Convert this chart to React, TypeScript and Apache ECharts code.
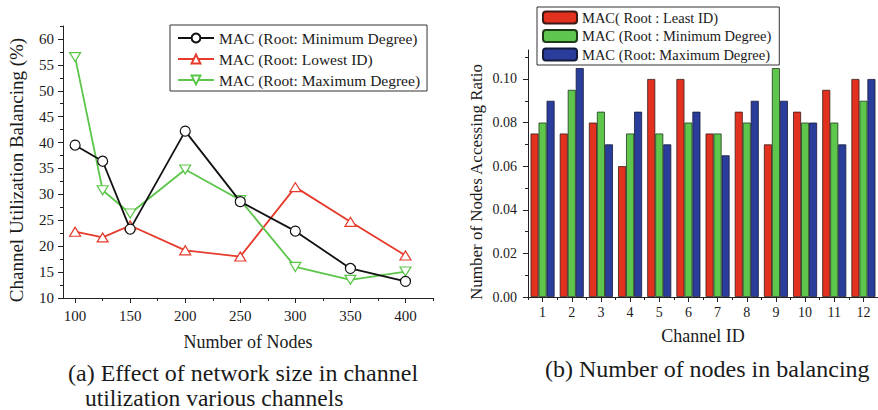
import React, { useEffect, useRef } from "react";
import * as echarts from "echarts";

// ---------- Data: left chart (a) ----------
const nodeCounts = [100, 125, 150, 200, 250, 300, 350, 400];
const minDegreeBalance = [39.5, 36.4, 23.3, 42.2, 28.6, 22.9, 15.7, 13.2];
const lowestIdBalance = [22.8, 21.7, 24.0, 19.2, 18.0, 31.4, 24.7, 18.2];
const maxDegreeBalance = [56.5, 30.8, 26.3, 34.8, 28.9, 16.0, 13.5, 15.1];

const leftXMajorTicks = [100, 150, 200, 250, 300, 350, 400];
const leftXMinorTicks = [125, 175, 225, 275, 325, 375, 425];
const leftYMajorTicks = [10, 15, 20, 25, 30, 35, 40, 45, 50, 55, 60];
const leftYMinorTicks = [12.5, 17.5, 22.5, 27.5, 32.5, 37.5, 42.5, 47.5, 52.5, 57.5, 62.5];

const leftNames = [
  "MAC (Root: Minimum Degree)",
  "MAC (Root: Lowest ID)",
  "MAC (Root: Maximum Degree)",
];

// ---------- Data: right chart (b) ----------
const channels = ["1", "2", "3", "4", "5", "6", "7", "8", "9", "10", "11", "12"];
const leastIdRatio = [0.075, 0.075, 0.08, 0.06, 0.1, 0.1, 0.075, 0.085, 0.07, 0.085, 0.095, 0.1];
const minDegreeRatio = [0.08, 0.095, 0.085, 0.075, 0.075, 0.08, 0.075, 0.08, 0.105, 0.08, 0.08, 0.09];
const maxDegreeRatio = [0.09, 0.105, 0.07, 0.085, 0.07, 0.085, 0.065, 0.09, 0.09, 0.08, 0.07, 0.1];

const rightYMajorTicks = [0, 0.02, 0.04, 0.06, 0.08, 0.1];
const rightYMinorTicks = [0.01, 0.03, 0.05, 0.07, 0.09, 0.11];

const rightLegendLabels: Record<string, string> = {
  barLeastId: "MAC( Root : Least ID)",
  barMinDegree: "MAC (Root : Minimum Degree)",
  barMaxDegree: "MAC (Root: Maximum Degree)",
};

const FONT = "'Liberation Serif', 'Times New Roman', Times, serif";
const INK = "#1a1a1a";
const AXIS = "#222";

export default function App() {
  const ref = useRef<HTMLDivElement>(null);

  useEffect(() => {
    document.body.style.margin = "0";
    if (!ref.current) return;
    const chart = echarts.init(ref.current, undefined, { renderer: "svg" });

    const axisLine = { show: true, onZero: false, lineStyle: { color: AXIS, width: 1 } };
    const tickStyle = { color: AXIS, width: 1 };

    const option: any = {
      animation: false,
      backgroundColor: "#fff",
      textStyle: { fontFamily: FONT, color: INK },
      grid: [
        { left: 63, top: 26, width: 370, height: 272 },
        { left: 528, top: 50, width: 352, height: 247 },
      ],
      xAxis: [
        {
          type: "value",
          gridIndex: 0,
          position: "bottom",
          min: 89,
          max: 425,
          axisLine,
          axisTick: { show: true, inside: false, length: 5, customValues: leftXMajorTicks, lineStyle: tickStyle },
          axisLabel: { customValues: leftXMajorTicks, margin: 10, fontSize: 15, color: INK, fontFamily: FONT },
          splitLine: { show: false },
          name: "Number of Nodes",
          nameLocation: "middle",
          nameGap: 35,
          nameTextStyle: { fontSize: 18, color: INK, fontFamily: FONT },
        },
        {
          type: "value",
          gridIndex: 0,
          position: "bottom",
          min: 89,
          max: 425,
          axisLine: { show: false },
          axisTick: { show: true, inside: false, length: 3, customValues: leftXMinorTicks, lineStyle: tickStyle },
          axisLabel: { show: false },
          splitLine: { show: false },
        },
        {
          type: "category",
          gridIndex: 1,
          position: "bottom",
          data: channels,
          axisLine,
          axisTick: { show: true, alignWithLabel: true, interval: 0, length: 5, lineStyle: tickStyle },
          axisLabel: { margin: 8, fontSize: 14, color: INK, fontFamily: FONT, interval: 0 },
          splitLine: { show: false },
          name: "Channel ID",
          nameLocation: "middle",
          nameGap: 30,
          nameTextStyle: { fontSize: 18, color: INK, fontFamily: FONT },
        },
        {
          type: "category",
          gridIndex: 1,
          position: "bottom",
          data: channels,
          axisLine: { show: false },
          axisTick: { show: true, interval: 0, length: 3, lineStyle: tickStyle },
          axisLabel: { show: false },
          splitLine: { show: false },
        },
      ],
      yAxis: [
        {
          type: "value",
          gridIndex: 0,
          position: "left",
          min: 10,
          max: 62.5,
          axisLine,
          axisTick: { show: true, inside: false, length: 5, customValues: leftYMajorTicks, lineStyle: tickStyle },
          axisLabel: { customValues: leftYMajorTicks, margin: 9, fontSize: 15, color: INK, fontFamily: FONT },
          splitLine: { show: false },
        },
        {
          type: "value",
          gridIndex: 0,
          position: "left",
          min: 10,
          max: 62.5,
          axisLine: { show: false },
          axisTick: { show: true, inside: false, length: 3, customValues: leftYMinorTicks, lineStyle: tickStyle },
          axisLabel: { show: false },
          splitLine: { show: false },
        },
        {
          type: "value",
          gridIndex: 1,
          position: "left",
          min: 0,
          max: 0.1133,
          axisLine,
          axisTick: { show: true, inside: false, length: 5, customValues: rightYMajorTicks, lineStyle: tickStyle },
          axisLabel: {
            customValues: rightYMajorTicks,
            margin: 11,
            fontSize: 14,
            color: INK,
            fontFamily: FONT,
            formatter: (v: number) => v.toFixed(2),
          },
          splitLine: { show: false },
        },
        {
          type: "value",
          gridIndex: 1,
          position: "left",
          min: 0,
          max: 0.1133,
          axisLine: { show: false },
          axisTick: { show: true, inside: false, length: 3, customValues: rightYMinorTicks, lineStyle: tickStyle },
          axisLabel: { show: false },
          splitLine: { show: false },
        },
      ],
      legend: [
        {
          data: leftNames,
          orient: "vertical",
          left: 170,
          top: 25,
          padding: [5, 7, 3, 7],
          itemGap: 5,
          itemWidth: 36,
          itemHeight: 11,
          borderColor: "#333",
          borderWidth: 1,
          backgroundColor: "#fff",
          textStyle: { fontSize: 15.5, color: INK, fontFamily: FONT },
          selectedMode: false,
        },
        {
          data: ["barLeastId", "barMinDegree", "barMaxDegree"],
          orient: "vertical",
          left: 537,
          top: 7,
          padding: [3, 8, 3, 5],
          itemGap: 3.5,
          itemWidth: 34,
          itemHeight: 12,
          borderColor: "#333",
          borderWidth: 1,
          backgroundColor: "#fff",
          formatter: (name: string) => rightLegendLabels[name] ?? name,
          textStyle: { fontSize: 14.5, color: INK, fontFamily: FONT },
          selectedMode: false,
        },
      ],
      series: [
        {
          type: "line",
          name: leftNames[0],
          xAxisIndex: 0,
          yAxisIndex: 0,
          data: nodeCounts.map((x, i) => [x, minDegreeBalance[i]]),
          symbol: "circle",
          symbolSize: 10,
          color: "#111",
          lineStyle: { color: "#111", width: 1.8 },
          itemStyle: { color: "#fff", borderColor: "#111", borderWidth: 1.2 },
          emphasis: { disabled: true },
          z: 3,
        },
        {
          type: "line",
          name: leftNames[1],
          xAxisIndex: 0,
          yAxisIndex: 0,
          data: nodeCounts.map((x, i) => [x, lowestIdBalance[i]]),
          symbol: "triangle",
          symbolSize: [11, 9],
          color: "#e53a2c",
          lineStyle: { color: "#e53a2c", width: 1.8 },
          itemStyle: { color: "#fff", borderColor: "#e53a2c", borderWidth: 1.2 },
          emphasis: { disabled: true },
          z: 2,
        },
        {
          type: "line",
          name: leftNames[2],
          xAxisIndex: 0,
          yAxisIndex: 0,
          data: nodeCounts.map((x, i) => [x, maxDegreeBalance[i]]),
          symbol: "triangle",
          symbolRotate: 180,
          symbolSize: [11, 9],
          color: "#5cc64a",
          lineStyle: { color: "#5cc64a", width: 1.8 },
          itemStyle: { color: "#fff", borderColor: "#5cc64a", borderWidth: 1.2 },
          emphasis: { disabled: true },
          z: 2,
        },
        {
          type: "bar",
          name: "barLeastId",
          xAxisIndex: 2,
          yAxisIndex: 2,
          data: leastIdRatio,
          barWidth: 8,
          barGap: "0%",
          itemStyle: { color: "#e2311f", borderColor: "#3a1a16", borderWidth: 0.8 },
          emphasis: { disabled: true },
        },
        {
          type: "bar",
          name: "barMinDegree",
          xAxisIndex: 2,
          yAxisIndex: 2,
          data: minDegreeRatio,
          barWidth: 8,
          barGap: "0%",
          itemStyle: { color: "#5ec64c", borderColor: "#1e3a1a", borderWidth: 0.8 },
          emphasis: { disabled: true },
        },
        {
          type: "bar",
          name: "barMaxDegree",
          xAxisIndex: 2,
          yAxisIndex: 2,
          data: maxDegreeRatio,
          barWidth: 8,
          barGap: "0%",
          itemStyle: { color: "#2b3d9b", borderColor: "#141a3a", borderWidth: 0.8 },
          emphasis: { disabled: true },
        },
      ],
      graphic: [
        {
          type: "text",
          x: 16,
          y: 170,
          rotation: Math.PI / 2,
          style: {
            text: "Channel Utilization Balancing (%)",
            fontSize: 19,
            fontFamily: FONT,
            fill: INK,
            align: "center",
            verticalAlign: "middle",
            textAlign: "center",
            textVerticalAlign: "middle",
          },
        },
        {
          type: "text",
          x: 476,
          y: 182,
          rotation: Math.PI / 2,
          style: {
            text: "Number of Nodes Accessing Ratio",
            fontSize: 17,
            fontFamily: FONT,
            fill: INK,
            align: "center",
            verticalAlign: "middle",
            textAlign: "center",
            textVerticalAlign: "middle",
          },
        },
        {
          type: "text",
          x: 68,
          y: 373,
          style: {
            text: "(a) Effect of network size in channel",
            fontSize: 24,
            fontFamily: FONT,
            fill: INK,
            align: "left",
            verticalAlign: "middle",
            textAlign: "left",
            textVerticalAlign: "middle",
          },
        },
        {
          type: "text",
          x: 85,
          y: 398,
          style: {
            text: "utilization various channels",
            fontSize: 23.5,
            fontFamily: FONT,
            fill: INK,
            align: "left",
            verticalAlign: "middle",
            textAlign: "left",
            textVerticalAlign: "middle",
          },
        },
        {
          type: "text",
          x: 545,
          y: 369,
          style: {
            text: "(b) Number of nodes in balancing",
            fontSize: 24,
            fontFamily: FONT,
            fill: INK,
            align: "left",
            verticalAlign: "middle",
            textAlign: "left",
            textVerticalAlign: "middle",
          },
        },
      ],
    };

    chart.setOption(option);
    return () => {
      chart.dispose();
    };
  }, []);

  return (
    <div
      ref={ref}
      style={{ position: "fixed", left: 0, top: 0, width: 878, height: 410, background: "#fff" }}
    />
  );
}
